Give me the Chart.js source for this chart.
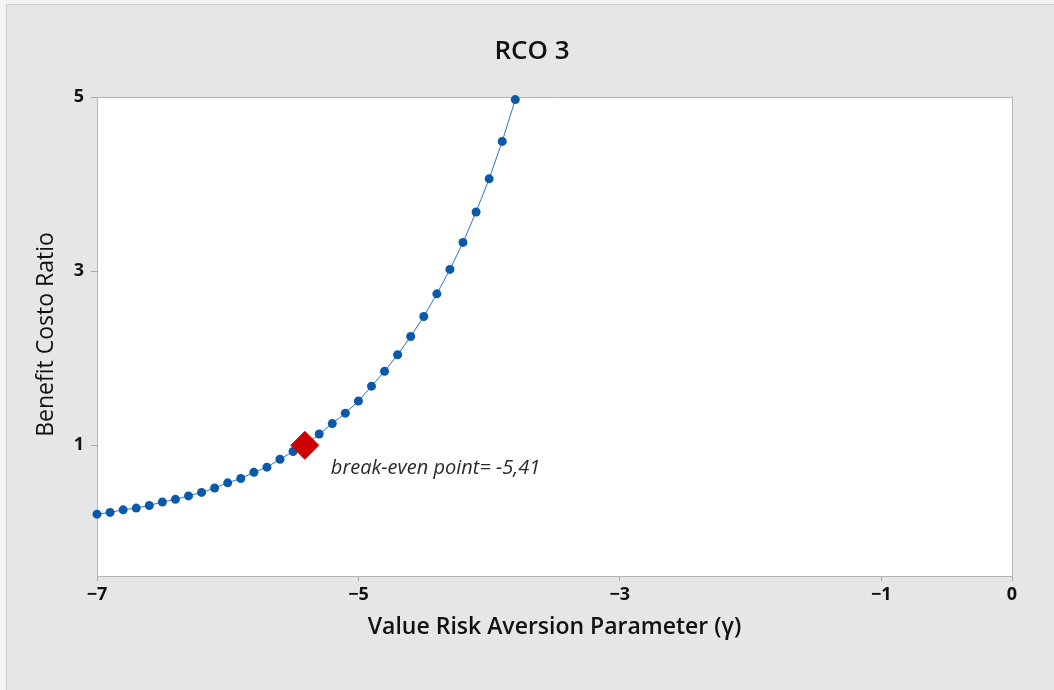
<!DOCTYPE html>
<html>
<head>
<meta charset="utf-8">
<script src="https://cdn.jsdelivr.net/npm/chart.js@4"></script>
<style>
  html, body { margin: 0; padding: 0; background: #f2f2f2; overflow: hidden; }
  #frame {
    position: absolute; left: 6px; top: 4px; width: 1048px; height: 686px;
    background: #e6e6e6; border-left: 1px solid #cdcdcd; border-top: 1px solid #cdcdcd;
    box-sizing: border-box;
  }
  #c { position: absolute; left: 0; top: 0; }
</style>
</head>
<body>
<div id="frame"></div>
<canvas id="c" width="1054" height="690"></canvas>
<script>
// Risk aversion parameter (gamma) and the benefit-cost ratio at each value
const gammaValues = [
  -7.0, -6.9, -6.8, -6.7, -6.6, -6.5, -6.4, -6.3, -6.2, -6.1,
  -6.0, -5.9, -5.8, -5.7, -5.6, -5.5, -5.4, -5.3, -5.2, -5.1,
  -5.0, -4.9, -4.8, -4.7, -4.6, -4.5, -4.4, -4.3, -4.2, -4.1,
  -4.0, -3.9, -3.8
];
const bcrValues = [
  0.21, 0.23, 0.26, 0.28, 0.31, 0.35, 0.38, 0.42, 0.46, 0.51,
  0.57, 0.62, 0.69, 0.75, 0.84, 0.93, 1.01, 1.13, 1.25, 1.37,
  1.51, 1.68, 1.85, 2.04, 2.25, 2.48, 2.74, 3.02, 3.33, 3.68,
  4.06, 4.49, 4.97
];

// Break-even point (ratio = 1)
const breakEvenGamma = [-5.41];
const breakEvenRatio = [1];
const breakEvenLabel = 'break-even point= -5,41';

// Axis ticks and labels
const xTicks = [-7, -5, -3, -1, 0];
const yTicks = [1, 3, 5];
const chartTitle = 'RCO 3';
const xTitle = 'Value Risk Aversion Parameter (\u03B3)';
const yTitle = 'Benefit Costo Ratio';

const FONT = '"Open Sans", "Noto Sans", sans-serif';

const curvePoints = gammaValues.map((g, i) => ({ x: g, y: bcrValues[i] }));
const breakEvenPoints = breakEvenGamma.map((g, i) => ({ x: g, y: breakEvenRatio[i] }));

// White plot panel with a thin grey frame
const panelPlugin = {
  id: 'panel',
  beforeDraw(chart) {
    const { ctx, chartArea: a } = chart;
    ctx.save();
    ctx.fillStyle = '#ffffff';
    ctx.fillRect(a.left, a.top, a.right - a.left, a.bottom - a.top);
    ctx.restore();
  },
  beforeDatasetsDraw(chart) {
    const { ctx, chartArea: a } = chart;
    ctx.save();
    ctx.strokeStyle = '#b4b4b4';
    ctx.lineWidth = 1;
    ctx.beginPath();
    ctx.moveTo(a.left, a.top + 0.5);
    ctx.lineTo(a.right + 0.5, a.top + 0.5);
    ctx.lineTo(a.right + 0.5, a.bottom);
    ctx.stroke();
    ctx.restore();
  }
};

// Chart title, axis titles and break-even annotation
const textPlugin = {
  id: 'texts',
  afterDraw(chart) {
    const { ctx, chartArea: a, scales } = chart;
    ctx.save();
    ctx.fillStyle = '#111111';
    ctx.textAlign = 'center';
    ctx.textBaseline = 'middle';

    ctx.font = '600 26px ' + FONT;
    ctx.fillText(chartTitle, 532, 52);

    ctx.font = '600 23px ' + FONT;
    ctx.fillText(xTitle, (a.left + a.right) / 2, 627);

    ctx.save();
    ctx.translate(46, (a.top + a.bottom) / 2 - 2);
    ctx.rotate(-Math.PI / 2);
    ctx.font = '500 23px ' + FONT;
    ctx.fillText(yTitle, 0, 0);
    ctx.restore();

    const px = scales.x.getPixelForValue(breakEvenGamma[0]);
    const py = scales.y.getPixelForValue(breakEvenRatio[0]);
    ctx.font = 'italic 400 20px ' + FONT;
    ctx.fillStyle = '#2a2a2a';
    ctx.textAlign = 'left';
    ctx.textBaseline = 'alphabetic';
    ctx.fillText(breakEvenLabel, px + 26, py + 29);
    ctx.restore();
  }
};

const tickFont = { family: FONT, size: 18, weight: '700' };

new Chart(document.getElementById('c'), {
  type: 'line',
  data: {
    datasets: [
      {
        label: 'Break-even',
        data: breakEvenPoints,
        showLine: false,
        pointStyle: 'rectRot',
        pointRadius: 14,
        pointHoverRadius: 14,
        backgroundColor: '#cc0000',
        borderColor: '#cc0000',
        borderWidth: 1,
        clip: false,
        order: 0
      },
      {
        label: 'Benefit Costo Ratio',
        data: curvePoints,
        borderColor: '#2f74c0',
        borderWidth: 1,
        pointStyle: 'circle',
        pointRadius: 4.5,
        pointHoverRadius: 4.5,
        pointBackgroundColor: '#0b59a9',
        pointBorderColor: '#0b59a9',
        pointBorderWidth: 0,
        tension: 0,
        clip: false,
        order: 1
      }
    ]
  },
  options: {
    responsive: false,
    animation: false,
    events: [],
    layout: { padding: { top: 97, right: 42, left: 0, bottom: 0 } },
    plugins: {
      legend: { display: false },
      title: { display: false },
      tooltip: { enabled: false }
    },
    scales: {
      x: {
        type: 'linear',
        min: -7,
        max: 0,
        afterBuildTicks(scale) { scale.ticks = xTicks.map(v => ({ value: v })); },
        afterFit(scale) { scale.height = 114; },
        ticks: {
          font: tickFont,
          color: '#111111',
          padding: 3,
          maxRotation: 0,
          autoSkip: false,
          callback: v => (v < 0 ? '\u2212' + Math.abs(v) : String(v))
        },
        grid: { drawOnChartArea: false, drawTicks: true, tickLength: 5, color: '#a8a8a8' },
        border: { display: true, color: '#b4b4b4', width: 1 }
      },
      y: {
        type: 'linear',
        min: -0.5,
        max: 5,
        afterBuildTicks(scale) { scale.ticks = yTicks.map(v => ({ value: v })); },
        afterFit(scale) { scale.width = 97; },
        ticks: {
          font: tickFont,
          color: '#111111',
          padding: 7,
          autoSkip: false
        },
        grid: { drawOnChartArea: false, drawTicks: true, tickLength: 6, color: '#a8a8a8' },
        border: { display: true, color: '#b4b4b4', width: 1 }
      }
    }
  },
  plugins: [panelPlugin, textPlugin]
});
</script>
</body>
</html>
